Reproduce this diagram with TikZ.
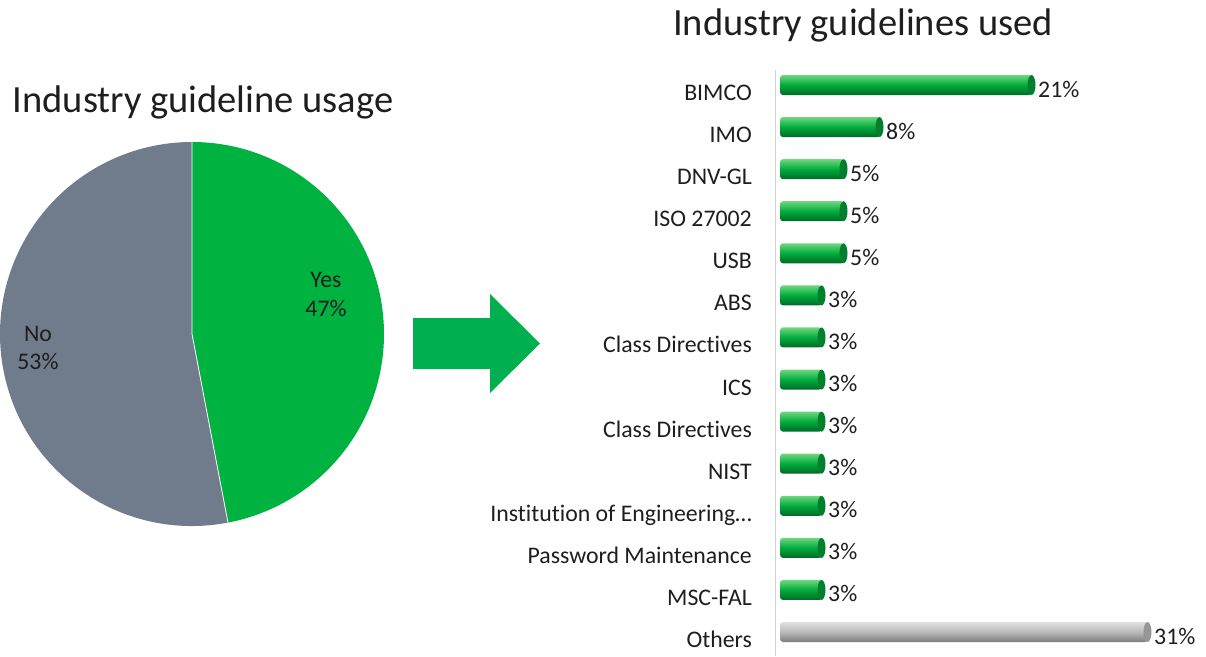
\documentclass[tikz,border=0pt]{standalone}
\usepackage{fontspec}
\setmainfont{Carlito}[Ligatures=NoCommon]
\definecolor{pieGreen}{RGB}{0,178,64}
\definecolor{pieGray}{RGB}{112,124,140}
\definecolor{arrowGreen}{RGB}{0,176,80}
\definecolor{gtop}{RGB}{110,215,125}
\definecolor{gmid}{RGB}{0,172,60}
\definecolor{gbot}{RGB}{0,105,38}
\definecolor{gcap}{RGB}{0,128,45}
\definecolor{stop}{RGB}{225,225,225}
\definecolor{smid}{RGB}{185,185,185}
\definecolor{sbot}{RGB}{125,125,125}
\definecolor{scap}{RGB}{150,150,150}
\definecolor{axisGray}{RGB}{210,210,210}
\definecolor{txt}{RGB}{30,30,30}
\newcommand{\cylbar}[3]{% y-centre, x-end, colour prefix
  \shade[top color=#3top, bottom color=#3bot, middle color=#3mid, rounded corners=3pt]
    (780,#1-10) rectangle (#2,#1+10);
  \fill[#3cap] (#2-0.5,#1) ellipse [x radius=4, y radius=10];
}
\begin{document}
\begin{tikzpicture}[x=1pt,y=-1pt,
  title/.style={font=\fontsize{38.5}{44}\selectfont, text=txt, inner sep=0pt},
  cat/.style={font=\fontsize{23.8}{28}\selectfont, text=txt, inner sep=0pt, anchor=base east},
  pct/.style={font=\fontsize{23.8}{28}\selectfont, text=txt, inner sep=0pt, anchor=base west},
  pielab/.style={font=\fontsize{23.8}{28}\selectfont, text=txt, inner sep=0pt, align=center}]
\useasboundingbox (0,0) rectangle (1206,656);
% titles
\node[title, anchor=base] (t1) at (203,112) {Industry guideline usage};
\node[title, anchor=base] (t2) at (863,35) {Industry guidelines used};
% pie
\coordinate (c) at (192,334);
\fill[pieGreen] (c) -- ++(90:192pt) arc[start angle=90, end angle=-79.2, radius=192pt] -- cycle;
\fill[pieGray] (c) -- ++(-79.2:192pt) arc[start angle=-79.2, end angle=-270, radius=192pt] -- cycle;
\draw[white, line width=0.8pt] (c) ++(90:192pt) -- (c) -- ++(-79.2:192pt);
\node[pielab, anchor=base] (yes) at (326,287) {Yes};
\node[pielab, anchor=base] (yesp) at (326,316) {47\%};
\node[pielab, anchor=base] (no) at (38,341) {No};
\node[pielab, anchor=base] (nop) at (38,369) {53\%};
% arrow
\fill[arrowGreen] (413,318) -- (490,318) -- (490,294) -- (540,343.5) -- (490,393) -- (490,369) -- (413,369) -- cycle;
% axis
\draw[axisGray, line width=1pt] (775,70) -- (775,656);
% bars
\foreach \y/\e/\lab/\p/\c in {
  85/1032/BIMCO/21/g,
  127.08/880/IMO/8/g,
  169.16/844/DNV-GL/5/g,
  211.24/844/ISO 27002/5/g,
  253.32/844/USB/5/g,
  295.4/822/ABS/3/g,
  337.48/822/Class Directives/3/g,
  379.56/822/ICS/3/g,
  421.64/822/Class Directives/3/g,
  463.72/822/NIST/3/g,
  505.8/822/Institution of Engineering\dots/3/g,
  547.88/822/Password Maintenance/3/g,
  589.96/822/MSC-FAL/3/g,
  632/1148/Others/31/s}{
  \cylbar{\y}{\e}{\c}
  \node[cat] at (752,\y+15.5) {\lab};
  \node[pct] at (\e+6,\y+12) {\p\%};
}
\end{tikzpicture}
\end{document}
